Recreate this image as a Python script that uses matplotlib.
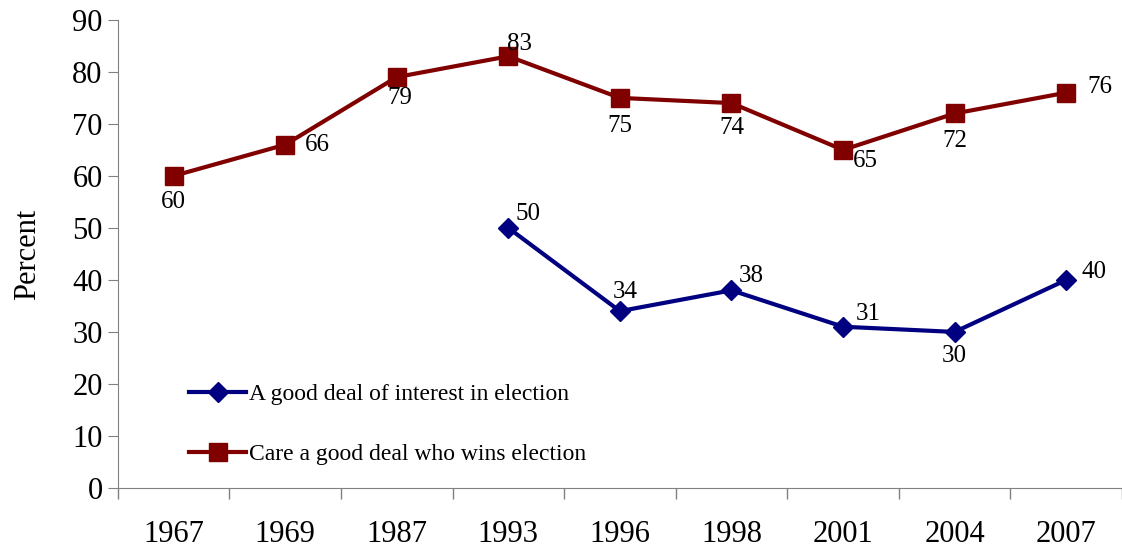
import numpy as np
import matplotlib.pyplot as plt

plt.rcParams["font.family"] = ["Liberation Serif", "DejaVu Serif"]

years = ["1967", "1969", "1987", "1993", "1996", "1998", "2001", "2004", "2007"]
care = [60, 66, 79, 83, 75, 74, 65, 72, 76]
interest = [None, None, None, 50, 34, 38, 31, 30, 40]

# label placement offsets (points) for each data label
care_off = [(0, -19), (23, 0), (2, -15), (8, 9), (0, -20), (0, -18), (16, -8), (0, -20), (24, 4)]
interest_off = [None, None, None, (14, 10), (4, 14), (14, 10), (18, 9), (0, -17), (20, 6)]

x = np.arange(len(years))
care_arr = np.array(care, dtype=float)
interest_arr = np.array([np.nan if v is None else v for v in interest], dtype=float)

fig = plt.figure(figsize=(11.22, 5.52), dpi=100)
ax = fig.add_axes([0.105, 0.116, 0.895, 0.848])

ax.plot(x, interest_arr, color="#000080", lw=3, marker="D", ms=10,
        label="A good deal of interest in election")
ax.plot(x, care_arr, color="#800000", lw=3, marker="s", ms=13,
        label="Care a good deal who wins election")

for i, v in enumerate(care):
    ax.annotate(str(v), (x[i], v), xytext=care_off[i], textcoords="offset points",
                ha="center", va="center", fontsize=18)
for i, v in enumerate(interest):
    if v is None:
        continue
    ax.annotate(str(v), (x[i], v), xytext=interest_off[i], textcoords="offset points",
                ha="center", va="center", fontsize=18)

ax.set_xlim(-0.5, len(years) - 0.5)
ax.set_ylim(0, 90)
ax.set_yticks(range(0, 91, 10))
ax.set_xticks(x)
ax.set_xticklabels(years)
ax.set_xticks(np.arange(-0.5, len(years) + 0.5, 1), minor=True)
ax.tick_params(axis="x", which="major", length=0, pad=23, labelsize=22)
ax.tick_params(axis="x", which="minor", length=8, color="#808080", width=1)
ax.tick_params(axis="y", length=7, color="#808080", labelsize=22, pad=4)
ax.set_ylabel("Percent", fontsize=22, labelpad=22)

ax.spines["top"].set_visible(False)
ax.spines["right"].set_visible(False)
ax.spines["left"].set_color("#808080")
ax.spines["bottom"].set_color("#808080")

ax.legend(loc="lower left", bbox_to_anchor=(0.05, 0.003), frameon=False, fontsize=17,
          handlelength=2.4, handletextpad=0.15, labelspacing=1.65)

plt.savefig("out.png")
